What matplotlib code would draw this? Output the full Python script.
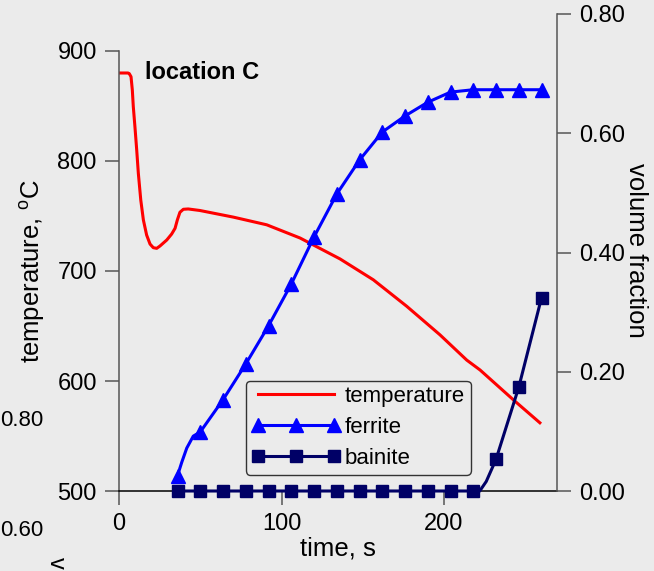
import matplotlib
matplotlib.use('Agg')
from matplotlib import pyplot as plt
import numpy as np

#####

# temperature history (s, degC)
temp_time = [0, 5.5, 6.3, 7.4, 8.2, 8.8, 9.8, 10.9, 11.9, 13.4, 15.0, 17.0, 19.1, 21.1,
             23.2, 25.2, 29.4, 32.4, 34.5, 35.9, 37.5, 39.6, 42.6, 49.8, 70.3, 90.9,
             111.4, 136, 156.5, 177, 197.5, 214, 222.2, 242.6, 259]
temp = [880, 880, 879.5, 876.6, 864.5, 849.4, 831.2, 810, 788.8, 764.5, 746.4, 732.7,
        724.5, 721.2, 720.6, 722.7, 728.2, 733.6, 738.8, 746.4, 753.4, 756.1, 756.4,
        755, 749, 742, 730, 711, 692, 668, 642, 619, 610, 583, 562]

# phase fractions at the marker times
sample_time = [36, 50, 64, 78, 92, 106, 120, 134, 148, 162, 176, 190, 204, 218, 232, 246, 260]
ferrite = [0.025, 0.099, 0.153, 0.213, 0.277, 0.347, 0.426, 0.498, 0.555,
           0.602, 0.629, 0.652, 0.669, 0.673, 0.673, 0.673, 0.673]
bainite = [0, 0, 0, 0, 0, 0, 0, 0, 0, 0, 0, 0, 0, 0, 0.053, 0.174, 0.324]

# extra curve points between markers (no marker drawn there)
ferrite_bend_time = [37.2, 38.6, 41.7, 45.7]
ferrite_bend = [0.036, 0.048, 0.072, 0.092]
bainite_bend_time = [222, 226]
bainite_bend = [0.0, 0.016]

xticks = [0, 100, 200]
temp_ticks = [500, 600, 700, 800, 900]
frac_ticks = [0.0, 0.2, 0.4, 0.6, 0.8]


def merge(t, v, tb, vb):
    tt = np.array(list(t) + list(tb), dtype=float)
    vv = np.array(list(v) + list(vb), dtype=float)
    order = np.argsort(tt, kind='stable')
    is_marker = np.array([True]*len(t) + [False]*len(tb))[order]
    return tt[order], vv[order], list(np.where(is_marker)[0])

#####

bg = '#ebebeb'
gray = '#555555'
fs = 17
lfs = 18.5

plt.rcParams['font.family'] = ['Liberation Sans', 'DejaVu Sans']
plt.rcParams['mathtext.fontset'] = 'custom'
plt.rcParams['mathtext.rm'] = 'Liberation Sans'

W, H = 654, 571
fig = plt.figure(figsize=(W/100, H/100), dpi=100, facecolor=bg)
ax = fig.add_axes([119/W, (H-491)/H, 438/W, 477/H], facecolor=bg)

# temperature on the left axis
lt, = ax.plot(temp_time, temp, color='#ff0000', lw=2.2, label='temperature')
ax.set_xlim(0, 438/1.625)
ax.set_ylim(500, 500 + 477/1.1)
ax.spines['top'].set_visible(False)
ax.spines['right'].set_visible(False)
ax.spines['left'].set_bounds(500, 900)
ax.spines['left'].set_color(gray)
ax.spines['bottom'].set_color('black')
for s in ax.spines.values():
    s.set_linewidth(1.1)
ax.set_yticks(temp_ticks)
ax.set_xticks(xticks)
ax.tick_params(direction='out', length=10, width=1.1, color=gray, labelsize=fs, pad=6)
ax.set_xlabel('time, s', fontsize=lfs, labelpad=1)
ax.set_ylabel('temperature, $^{\\rm o}$C', fontsize=lfs)
ax.yaxis.set_label_coords(-0.165, 0.461)

# phase fractions on the right axis
ax2 = ax.twinx()
ax2.set_ylim(0, 0.8)
for side in ['top', 'left', 'bottom']:
    ax2.spines[side].set_visible(False)
ax2.spines['right'].set_color(gray)
ax2.spines['right'].set_linewidth(1.1)

ft, fv, fm = merge(sample_time, ferrite, ferrite_bend_time, ferrite_bend)
bt, bv, bm = merge(sample_time, bainite, bainite_bend_time, bainite_bend)
lf, = ax2.plot(ft, fv, color='#0000ff', lw=2.2, marker='^', ms=10, markevery=fm,
               label='ferrite', clip_on=False)
lb, = ax2.plot(bt, bv, color='#000066', lw=2.2, marker='s', ms=9, markevery=bm,
               label='bainite', clip_on=False)

ax2.set_yticks(frac_ticks)
ax2.set_yticklabels(['%.2f' % v for v in frac_ticks])
ax2.tick_params(direction='out', length=10, width=1.1, color=gray, labelsize=fs, pad=6)
ax2.set_ylabel('volume fraction', fontsize=lfs, rotation=-90, va='bottom')
ax2.yaxis.set_label_coords(1.153, 0.505)

leg = ax2.legend(handles=[lt, lf, lb], loc='lower left', bbox_to_anchor=(0.29, 0.034),
                 borderaxespad=0, fontsize=16, numpoints=3, handlelength=4.0,
                 handletextpad=0.2, labelspacing=0.45, borderpad=0.25,
                 facecolor=bg, edgecolor='#333333', framealpha=1, fancybox=True)
leg.get_frame().set_linewidth(1.0)

ax.text(145/W, 1-72/H, 'location C', fontsize=fs, fontweight='bold',
        va='center', ha='left', transform=fig.transFigure)

# bits of the neighbouring panel that show at the lower left
fig.text(0/W, 1-421/H, '0.80', fontsize=fs-1, va='center', ha='left')
fig.text(0/W, 1-530/H, '0.60', fontsize=fs-1, va='center', ha='left')
fig.text(56/W, 1-557/H, 'v', fontsize=fs, rotation=-90, va='top', ha='center')

fig.savefig('out.png', dpi=100, facecolor=bg)
